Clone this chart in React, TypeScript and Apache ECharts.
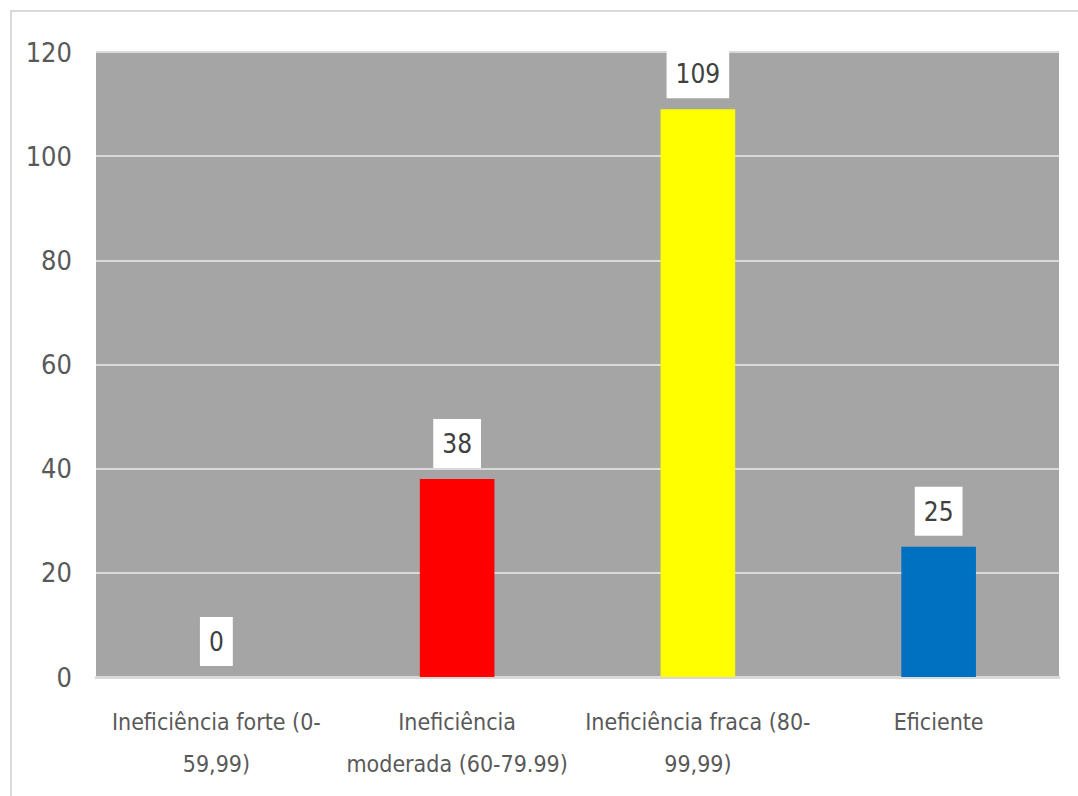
import React, { useEffect, useRef } from "react";
import * as echarts from "echarts";

const categories = [
  "Ineficiência forte (0-\n59,99)",
  "Ineficiência\nmoderada (60-79.99)",
  "Ineficiência fraca (80-\n99,99)",
  "Eficiente",
];
const values = [0, 38, 109, 25];
const barColors = ["#A5A5A5", "#FF0000", "#FFFF00", "#0070C0"];
const yTicks = { min: 0, max: 120, interval: 20 };

const FONT = "'Liberation Sans Narrow', 'DejaVu Sans Condensed', 'Roboto Condensed', 'Liberation Sans', sans-serif";

export default function App() {
  const ref = useRef<HTMLDivElement>(null);
  useEffect(() => {
    if (!ref.current) return;
    const chart = echarts.init(ref.current, undefined, { renderer: "svg" });
    chart.setOption({
      animation: false,
      backgroundColor: "#FFFFFF",
      graphic: [
        {
          type: "rect",
          shape: { x: 11, y: 11, width: 1100, height: 1000 },
          style: { fill: "none", stroke: "#D9D9D9", lineWidth: 2 },
          silent: true,
          z: 100,
        },
      ],
      grid: {
        left: 96,
        top: 52,
        right: 19,
        bottom: 119,
        show: true,
        backgroundColor: "#A5A5A5",
        borderWidth: 0,
      },
      xAxis: {
        type: "category",
        data: categories,
        axisLine: { show: true, lineStyle: { color: "#D9D9D9", width: 3 } },
        axisTick: { show: false },
        axisLabel: {
          fontFamily: FONT,
          fontSize: 23,
          color: "#595959",
          lineHeight: 42,
          margin: 24,
          interval: 0,
        },
      },
      yAxis: {
        type: "value",
        min: yTicks.min,
        max: yTicks.max,
        interval: yTicks.interval,
        axisLine: { show: false },
        axisTick: { show: false },
        splitLine: { show: true, lineStyle: { color: "#D9D9D9", width: 2 } },
        axisLabel: {
          fontFamily: FONT,
          fontSize: 27,
          color: "#595959",
          margin: 24,
        },
      },
      series: [
        {
          type: "bar",
          data: values.map((v, i) => ({ value: v, itemStyle: { color: barColors[i] } })),
          barWidth: "31%",
          label: {
            show: true,
            position: "top",
            distance: 11,
            fontFamily: FONT,
            fontSize: 26,
            color: "#404040",
            backgroundColor: "#FFFFFF",
            padding: [12, 9, 11, 9],
          },
        },
      ],
    });
    return () => chart.dispose();
  }, []);
  return (
    <div
      ref={ref}
      style={{ position: "fixed", left: 0, top: 0, width: 1078, height: 796 }}
    />
  );
}
